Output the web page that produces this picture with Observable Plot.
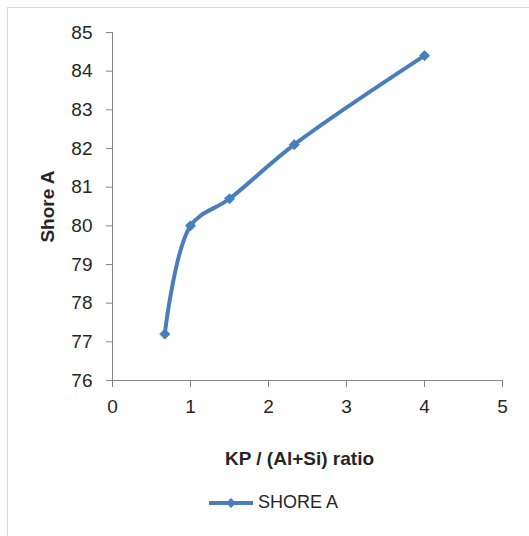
<!DOCTYPE html>
<html><head><meta charset="utf-8">
<script src="https://cdn.jsdelivr.net/npm/d3@7"></script>
<script src="https://cdn.jsdelivr.net/npm/@observablehq/plot@0.6"></script>
<style>
html,body{margin:0;padding:0;background:#fff;width:529px;height:536px;overflow:hidden;font-family:"Liberation Sans",Arial,sans-serif;}
#frame{position:absolute;left:7px;top:7px;width:540px;height:540px;border:1px solid #d9d9d9;box-sizing:border-box}
#chart{position:absolute;left:0;top:0}
#legend{position:absolute;left:205px;top:492px;display:flex;align-items:center;font-size:18px;color:#262626}
</style></head>
<body>
<div id="frame"></div>
<div id="chart"></div>
<div id="legend"></div>
<script>
const ratio = [0.67, 1, 1.5, 2.33, 4];
const shoreA = [77.2, 80, 80.7, 82.1, 84.4];
const xTicks = [0, 1, 2, 3, 4, 5];
const yTicks = [76, 77, 78, 79, 80, 81, 82, 83, 84, 85];
const xTitle = "KP / (Al+Si) ratio";
const yTitle = "Shore A";
const seriesName = "SHORE A";

const color = "#4A7EBB";
const data = ratio.map((r, i) => ({ratio: r, shore: shoreA[i]}));

const chart = Plot.plot({
  width: 529, height: 475,
  marginLeft: 112, marginRight: 27, marginTop: 32, marginBottom: 95,
  style: {fontFamily: '"Liberation Sans", Arial, sans-serif', fontSize: "19px", color: "#262626", background: "transparent"},
  x: {domain: [0, 5], ticks: xTicks},
  y: {domain: [76, 85], ticks: yTicks},
  marks: [
    Plot.ruleX([0], {stroke: "#868686"}),
    Plot.ruleY([76], {stroke: "#868686"}),
    Plot.axisY({ticks: yTicks, tickFormat: d3.format("d"), tickSize: 6, tickPadding: 14, stroke: "#868686", fill: "#262626", fontSize: 19, label: null}),
    Plot.axisX({ticks: xTicks, tickFormat: d3.format("d"), tickSize: 7, tickPadding: 12, stroke: "#868686", fill: "#262626", fontSize: 19, label: null}),
    Plot.line(data, {x: "ratio", y: "shore", curve: "catmull-rom", stroke: color, strokeWidth: 4}),
    Plot.dot(data, {x: "ratio", y: "shore", symbol: "diamond2", r: 4.5, fill: color, stroke: color, strokeWidth: 1}),
    Plot.text([xTitle], {frameAnchor: "bottom", dy: 84, dx: -8, fontWeight: "bold", fontSize: 19, fill: "#262626"}),
    Plot.text([yTitle], {frameAnchor: "left", textAnchor: "middle", dx: -65, rotate: -90, fontWeight: "bold", fontSize: 19, fill: "#262626"})
  ]
});
document.getElementById("chart").append(chart);

const lg = document.getElementById("legend");
lg.innerHTML = `<svg width="50" height="20"><line x1="4" y1="10" x2="48" y2="10" stroke="${color}" stroke-width="4"/><path d="M26,5 L31,10 L26,15 L21,10 Z" fill="${color}"/></svg><span style="margin-left:3px">${seriesName}</span>`;
</script>
</body></html>
